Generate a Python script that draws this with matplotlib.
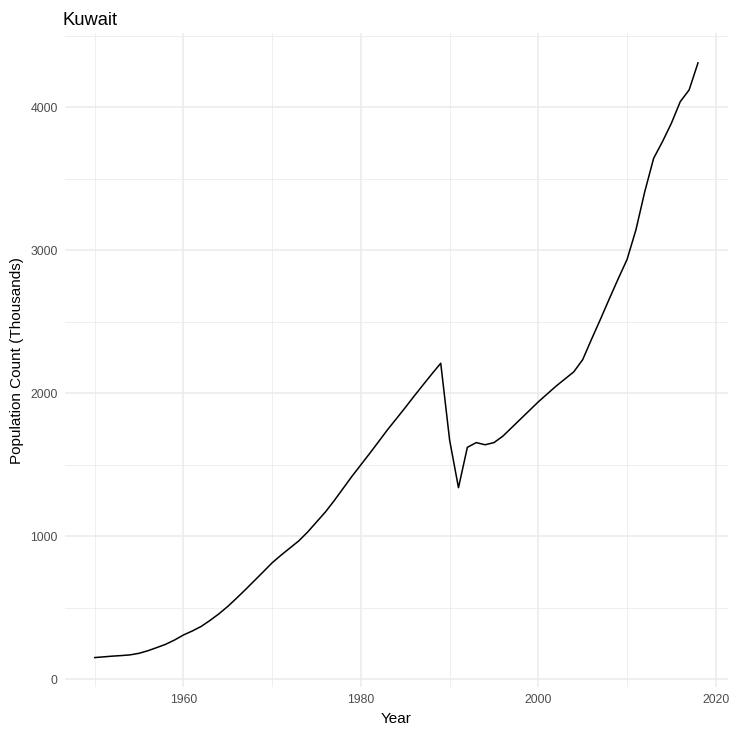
import matplotlib
matplotlib.use("Agg")
import matplotlib.pyplot as plt
from matplotlib.ticker import MultipleLocator

plt.rcParams["font.family"] = ["Liberation Sans", "DejaVu Sans"]

years = list(range(1950, 2019))
population = [
    152, 157, 162, 166, 171, 182, 200, 222, 245, 275,
    310, 338, 370, 412, 458, 510, 568, 628, 690, 752,
    815, 868, 918, 968, 1030, 1100, 1170, 1250, 1335, 1420,
    1500, 1580, 1662, 1745, 1822, 1900, 1980, 2058, 2135, 2210,
    1673, 1340, 1622, 1655, 1640, 1655, 1700, 1760, 1820, 1880,
    1940, 1995, 2050, 2100, 2150, 2235, 2378, 2517, 2660, 2800,
    2935, 3142, 3410, 3643, 3760, 3888, 4039, 4121, 4310,
]

GRID = "#EBEBEB"
TEXT = "#4D4D4D"

fig = plt.figure(figsize=(7.4, 7.29), dpi=100)
ax = fig.add_axes([0.0873, 0.0572, 0.984 - 0.0873, 0.9545 - 0.0572])

ax.plot(years, population, color="black", linewidth=1.1)

# ggplot-style 5% expansion
span_x = max(years) - min(years)
ax.set_xlim(min(years) - 0.05 * span_x, max(years) + 0.05 * span_x)
span_y = max(population) - min(population)
ax.set_ylim(min(population) - 0.05 * span_y, max(population) + 0.05 * span_y)

ax.xaxis.set_major_locator(MultipleLocator(20))
ax.xaxis.set_minor_locator(MultipleLocator(10))
ax.yaxis.set_major_locator(MultipleLocator(1000))
ax.yaxis.set_minor_locator(MultipleLocator(500))

ax.grid(which="major", color=GRID, linewidth=1.1)
ax.grid(which="minor", color=GRID, linewidth=0.55)
ax.set_axisbelow(True)
for s in ax.spines.values():
    s.set_visible(False)
ax.tick_params(which="both", length=0, colors=TEXT, labelsize=8.8, pad=5)

ax.set_xlabel("Year", fontsize=11, color="black", labelpad=4)
ax.set_ylabel("Population Count (Thousands)", fontsize=11, color="black", labelpad=4.5)
ax.set_title("Kuwait", fontsize=13.2, loc="left", x=-0.003, pad=6)

fig.savefig("out.png", dpi=100, facecolor="white")
